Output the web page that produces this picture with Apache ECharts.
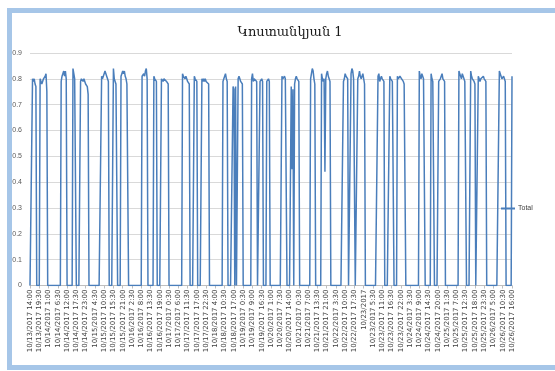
<!DOCTYPE html>
<html>
<head>
<meta charset="utf-8">
<script src="https://cdn.jsdelivr.net/npm/echarts@6/dist/echarts.min.js"></script>
<style>
html,body{margin:0;padding:0;background:#fff;}
#c{width:555px;height:371px;}
</style>
</head>
<body>
<div id="c"></div>
<script>
// Title and legend
const chartTitle = "Կոստանկյան 1";
const seriesName = "Total";

// Tick labels shown on the category axis (every 11th half-hour reading)
const tickLabels = [
"10/13/2017 14:00","10/13/2017 19:30","10/14/2017 1:00","10/14/2017 6:30","10/14/2017 12:00",
"10/14/2017 17:30","10/14/2017 23:00","10/15/2017 4:30","10/15/2017 10:00","10/15/2017 15:30",
"10/15/2017 21:00","10/16/2017 2:30","10/16/2017 8:00","10/16/2017 13:30","10/16/2017 19:00",
"10/17/2017 0:30","10/17/2017 6:00","10/17/2017 11:30","10/17/2017 17:00","10/17/2017 22:30",
"10/18/2017 4:00","10/18/2017 10:30","10/18/2017 17:00","10/19/2017 0:30","10/19/2017 9:00",
"10/19/2017 16:30","10/20/2017 1:00","10/20/2017 7:30","10/20/2017 14:00","10/21/2017 0:30",
"10/21/2017 7:00","10/21/2017 13:30","10/21/2017 21:00","10/22/2017 3:30","10/22/2017 10:00",
"10/22/2017 17:30","10/23/2017","10/23/2017 5:30","10/23/2017 11:00","10/23/2017 16:30",
"10/23/2017 22:00","10/24/2017 3:30","10/24/2017 9:00","10/24/2017 14:30","10/24/2017 20:00",
"10/25/2017 1:30","10/25/2017 7:00","10/25/2017 12:30","10/25/2017 18:00","10/25/2017 23:30",
"10/26/2017 5:00","10/26/2017 10:30","10/26/2017 16:00"
];
const labelStep = 11;

// Series values (Total), one per reading
const totalValues = [
0,0,0,
.80,.79,.80,.78,.77,
0,0,0,0,
.80,.80,.78,.79,.80,.80,.81,.82,.75,
0,0,0,0, 0,0,0,0, 0,0,0,0, 0,0,0,0,
.79,.81,.82,.83,.81,.83,.80,
0,0,0,0, 0,0,0,
.84,.82,.80,.80,
0,0,0,0,0,
.79,.80,.80,.79,.80,.79,.78,.78,.77,.74,
0,0,0,0,0, 0,0,0,0,0, 0,0,0,0,0,
.81,.80,.81,.82,.83,.83,.81,.80,.79,
0,0,0,0,0,
.84,.80,.79,.78,.78,
0,0,0,0,
.81,.82,.83,.82,.83,.81,.80,.78,.78,
0,0,0,0, 0,0,0,0, 0,0,0,0, 0,0,0,0,
.81,.81,.82,.81,.83,.84,.80,
0,0,0,0, 0,0,0,
.81,.80,.80,.79,
0,0,0,0,0,
.80,.80,.79,.80,.80,.80,.79,.79,.78,
0,0,0,0, 0,0,0,0, 0,0,0,0, 0,0,0,0,
.82,.81,.81,.80,.81,.80,.79,.79,.78,
0,0,0,0,0,
.81,.80,.80,.79,
0,0,0,0,0,
.80,.79,.80,.79,.80,.79,.79,.79,.78,
0,0,0,0, 0,0,0,0, 0,0,0,0, 0,0,0,0,
.79,.80,.81,.82,.80,.79,
0,0,0, 0,0,0,
.77,.76,0,.77,
0,0,
.80,.81,.80,.79,.79,.78,
0,0,0,0,0, 0,0,0,0,0,
.80,.82,.79,.80,.80,.80,.79,
0,0,0,
.79,.79,.80,.79,
0,0,0,0,
.79,.79,.80,.79,
0,0,0,0, 0,0,0,0, 0,0,0,0, 0,0,
.81,.80,.80,.81,.80,.80,
0,0,0,0,0,
.77,.45,.76,
0,
.78,.80,.81,.80,.80,.79,
0,0,0,0, 0,0,0,0, 0,0,0,0, 0,
.80,.82,.84,.83,.80,.78,
0,0,0,0, 0,0,0,
.82,.80,.79,.80,.44,.80,.82,.83,.81,.80,.79,
0,0,0,0,0, 0,0,0,0,0, 0,0,0,0,0,
.79,.80,.82,.81,.81,.80,
0,0,0,
.82,.84,.83,.80,.80,
0,0,0,
.80,.81,.83,.81,.80,.81,.82,.80,.78,
0,0,0,0,0, 0,0,0,0,0, 0,0,0,0,0,
.81,.82,.79,.80,.81,.80,.80,.79,
0,0,0, 0,0,0,
.81,.80,.80,.79,.79,
0,0,0,0,
.81,.80,.80,.81,.81,.80,.80,.79,.78,.78,
0,0,0,0, 0,0,0,0, 0,0,0,0, 0,0,0,0,
.83,.81,.80,.82,.81,.80,.80,
0,0,0,0, 0,0,0,
.82,.80,.79,.79,
0,0,0,0,0,
.79,.79,.80,.80,.82,.80,.80,.79,
0,0,0,0, 0,0,0,0, 0,0,0,0, 0,0,0,0,
.83,.82,.81,.80,.82,.81,.80,.79,.79,
0,0,0,0,0,
.83,.81,.80,.80,.79,.78,
0,0,0,
.81,.80,.79,.80,.80,.80,.81,.80,.80,.79,
0,0,0,0,0, 0,0,0,0,0, 0,0,0,0,0,
.83,.83,.81,.80,.80,.81,.80,.79,
0,0,0,0, 0,0,0,
.81
];

const categories = totalValues.map((v, i) => String(i));

const chart = echarts.init(document.getElementById('c'), null, {renderer: 'canvas'});
chart.setOption({
  animation: false,
  backgroundColor: '#ffffff',
  graphic: [{
    type: 'rect',
    shape: {x: 9.5, y: 10.5, width: 620, height: 357},
    style: {fill: 'none', stroke: '#A6C6E8', lineWidth: 5},
    silent: true, z: -1
  }],
  title: {
    text: chartTitle,
    left: 285, top: 21, textAlign: 'center',
    textStyle: {fontFamily: 'DejaVu Serif, DejaVu Sans', fontSize: 13, fontWeight: 'normal', color: '#1a1a1a'}
  },
  legend: {
    data: [seriesName],
    left: 496, top: 200, orient: 'vertical',
    icon: 'rect', itemWidth: 14, itemHeight: 2, itemGap: 4,
    textStyle: {fontFamily: 'Liberation Sans, DejaVu Sans', fontSize: 7, color: '#404040', padding: [0,0,0,-2]}
  },
  grid: {left: 30, right: 43, top: 53, bottom: 85.5, containLabel: false},
  xAxis: {
    type: 'category',
    data: categories,
    boundaryGap: false,
    axisLine: {show: true, lineStyle: {color: '#BFBFBF', width: 1}},
    axisTick: {show: true, interval: labelStep - 1, length: 3, lineStyle: {color: '#BFBFBF'}},
    axisLabel: {
      interval: labelStep - 1,
      rotate: 90,
      fontSize: 7,
      fontFamily: 'DejaVu Sans',
      color: '#404040',
      margin: 4,
      formatter: function (v, idx) {
        const k = idx / labelStep;
        return Number.isInteger(k) && tickLabels[k] ? tickLabels[k] : '';
      }
    },
    splitLine: {show: false}
  },
  yAxis: {
    type: 'value',
    min: 0, max: 0.9, interval: 0.1,
    axisLine: {show: false},
    axisTick: {show: false},
    axisLabel: {fontSize: 7, fontFamily: 'Liberation Sans, DejaVu Sans', color: '#595959', margin: 8,
      formatter: function (v) { return v === 0 ? '0' : v.toFixed(1); }},
    splitLine: {lineStyle: {color: '#D9D9D9', width: 1}}
  },
  series: [{
    name: seriesName,
    type: 'line',
    data: totalValues,
    showSymbol: false,
    symbol: 'none',
    lineStyle: {color: '#4A7EBB', width: 1.5},
    itemStyle: {color: '#4A7EBB'}
  }]
});
</script>
</body>
</html>
